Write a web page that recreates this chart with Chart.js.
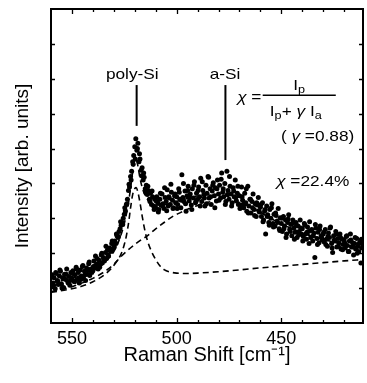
<!DOCTYPE html>
<html>
<head>
<meta charset="utf-8">
<script src="https://cdn.jsdelivr.net/npm/chart.js@4.4.0/dist/chart.umd.min.js"></script>
<style>
  body { margin: 0; background: #fff; }
</style>
</head>
<body>
<canvas id="raman" width="367" height="383"></canvas>
<script>
// measured spectrum (Raman shift in cm-1, intensity in arb. units)
const shift = [
  560,559.5,559,558.5,558,557.5,557,556.5,556,555.5,555,554.5,554,553.5,553,552.5,552,551.5,551,550.5,
  550,549.5,549,548.5,548,547.5,547,546.5,546,545.5,545,544.5,544,543.5,543,542.5,542,541.5,541,540.5,
  540,539.5,539,538.5,538,537.5,537,536.5,536,535.5,535,534.5,534,533.5,533,532.5,532,531.5,531,530.5,
  530,529.5,529,528.5,528,527.5,527,526.5,526,525.5,525,524.5,524,523.5,523,522.5,522,521.5,521,520.5,
  520,519.5,519,518.5,518,517.5,517,516.5,516,515.5,515,514.5,514,513.5,513,512.5,512,511.5,511,510.5,
  510,509.5,509,508.5,508,507.5,507,506.5,506,505.5,505,504.5,504,503.5,503,502.5,502,501.5,501,500.5,
  500,499.5,499,498.5,498,497.5,497,496.5,496,495.5,495,494.5,494,493.5,493,492.5,492,491.5,491,490.5,
  490,489.5,489,488.5,488,487.5,487,486.5,486,485.5,485,484.5,484,483.5,483,482.5,482,481.5,481,480.5,
  480,479.5,479,478.5,478,477.5,477,476.5,476,475.5,475,474.5,474,473.5,473,472.5,472,471.5,471,470.5,
  470,469.5,469,468.5,468,467.5,467,466.5,466,465.5,465,464.5,464,463.5,463,462.5,462,461.5,461,460.5,
  460,459.5,459,458.5,458,457.5,457,456.5,456,455.5,455,454.5,454,453.5,453,452.5,452,451.5,451,450.5,
  450,449.5,449,448.5,448,447.5,447,446.5,446,445.5,445,444.5,444,443.5,443,442.5,442,441.5,441,440.5,
  440,439.5,439,438.5,438,437.5,437,436.5,436,435.5,435,434.5,434,433.5,433,432.5,432,431.5,431,430.5,
  430,429.5,429,428.5,428,427.5,427,426.5,426,425.5,425,424.5,424,423.5,423,422.5,422,421.5,421,420.5,
  420,419.5,419,418.5,418,417.5,417,416.5,416,415.5,415,414.5,414,413.5,413,412.5,412,411.5,411
];
const intensity = [
  1.05,1.38,1.15,1.30,0.98,1.42,1.22,1.10,1.35,1.48,1.12,1.30,1.02,1.40,1.25,1.55,1.18,1.33,1.08,1.45,
  1.28,1.50,1.20,1.38,1.60,1.25,1.45,1.15,1.52,1.35,1.62,1.30,1.48,1.22,1.58,1.40,1.70,1.36,1.55,1.45,
  1.50,1.78,1.58,1.66,1.85,1.55,1.80,1.68,1.95,1.72,1.88,1.78,2.02,1.85,2.10,1.92,2.15,2.05,2.28,2.12,
  2.25,2.35,2.28,2.50,2.45,2.62,2.70,2.80,2.88,3.00,3.12,3.22,3.40,3.55,3.80,3.90,4.20,4.35,4.62,4.80,
  5.05,5.28,4.95,5.15,4.62,4.70,4.38,4.45,4.10,4.18,3.85,3.95,3.68,3.80,3.55,3.72,3.40,3.62,3.35,3.55,
  3.30,3.62,3.45,3.25,3.55,3.38,3.70,3.42,3.28,3.60,3.48,3.82,3.35,3.58,3.40,3.75,3.52,3.30,3.65,3.45,
  3.62,3.40,3.85,3.55,3.30,4.25,3.60,3.48,3.78,3.20,3.65,3.92,3.50,3.70,3.38,3.85,3.58,4.05,3.45,3.72,
  3.55,3.90,3.62,4.15,3.48,3.80,3.68,3.35,3.95,3.72,4.20,3.58,3.85,3.40,3.78,4.02,3.65,3.88,3.50,4.10,
  3.70,3.95,3.58,4.30,3.75,3.62,4.00,3.48,4.35,3.80,3.55,3.92,3.70,3.45,3.88,3.62,4.10,3.50,3.72,3.40,
  3.65,3.38,3.90,3.52,3.30,3.72,3.45,3.20,3.92,3.35,3.55,3.15,3.48,3.70,3.25,3.42,3.05,3.38,3.60,3.18,
  3.32,3.05,3.45,2.95,3.20,2.55,3.35,3.10,2.88,3.25,3.00,3.42,2.85,3.12,2.78,3.08,2.92,3.28,2.70,3.02,
  2.85,2.62,3.05,2.78,2.95,2.55,2.88,3.10,2.68,2.82,2.50,2.95,2.72,2.60,2.88,2.45,2.78,2.62,2.95,2.55,
  2.70,2.48,2.85,2.55,2.40,2.75,2.62,2.90,2.45,2.68,2.35,2.58,1.88,2.72,2.42,2.60,2.30,2.78,2.50,2.38,
  2.55,2.32,2.68,2.40,2.20,2.58,2.45,2.75,2.28,2.02,2.50,2.35,2.62,2.18,2.42,2.30,2.55,2.12,2.40,2.25,
  2.38,2.15,2.48,2.22,2.05,2.35,2.55,2.18,2.30,1.95,2.28,2.12,2.42,2.20,2.05,2.32,1.72,2.15,2.25
];

// second, interleaved set of spectrum points
const shift2 = [
  559.75,558.75,557.75,556.75,555.75,554.75,553.75,552.75,551.75,550.75,
  549.75,548.75,547.75,546.75,545.75,544.75,543.75,542.75,541.75,540.75,
  539.75,538.75,537.75,536.75,535.75,534.75,533.75,532.75,531.75,530.75,
  529.75,528.75,527.75,526.75,525.75,524.75,523.75,522.75,521.75,520.75,
  519.75,518.75,517.75,516.75,515.75,514.75,513.75,512.75,511.75,510.75,
  509.75,508.75,507.75,506.75,505.75,504.75,503.75,502.75,501.75,500.75,
  499.75,498.75,497.75,496.75,495.75,494.75,493.75,492.75,491.75,490.75,
  489.75,488.75,487.75,486.75,485.75,484.75,483.75,482.75,481.75,480.75,
  479.75,478.75,477.75,476.75,475.75,474.75,473.75,472.75,471.75,470.75,
  469.75,468.75,467.75,466.75,465.75,464.75,463.75,462.75,461.75,460.75,
  459.75,458.75,457.75,456.75,455.75,454.75,453.75,452.75,451.75,450.75,
  449.75,448.75,447.75,446.75,445.75,444.75,443.75,442.75,441.75,440.75,
  439.75,438.75,437.75,436.75,435.75,434.75,433.75,432.75,431.75,430.75,
  429.75,428.75,427.75,426.75,425.75,424.75,423.75,422.75,421.75,420.75,
  419.75,418.75,417.75,416.75,415.75,414.75,413.75,412.75,411.75
];
const intensity2 = [
  1.32,1.08,1.45,1.20,1.52,1.00,1.28,1.40,1.15,1.22,
  1.42,1.18,1.55,1.30,1.25,1.65,1.38,1.52,1.75,1.48,
  1.62,1.92,1.70,1.60,2.00,1.82,2.20,1.95,2.08,2.35,
  2.18,2.55,2.48,2.90,2.82,3.30,3.42,3.98,4.10,4.55,
  4.70,5.00,4.85,4.22,4.30,3.75,3.92,3.48,3.78,3.25,
  3.50,3.18,3.72,3.35,3.88,3.22,3.62,3.98,3.28,3.70,
  3.28,3.75,3.52,4.00,3.42,3.80,3.60,3.25,3.95,3.48,
  3.80,3.35,4.05,3.58,3.42,4.18,3.62,3.95,3.30,3.85,
  3.52,4.12,3.85,3.40,3.68,4.20,3.35,3.78,3.60,3.92,
  3.28,3.62,3.40,3.85,3.15,3.55,3.30,3.08,3.45,3.22,
  3.40,2.90,3.25,3.05,2.80,3.30,2.75,3.15,2.88,2.65,
  3.00,2.70,2.45,2.98,2.62,2.85,2.40,2.80,2.52,2.72,
  2.35,2.80,2.60,2.28,2.65,2.50,2.82,2.25,2.68,2.45,
  2.60,2.25,2.48,2.72,2.15,2.38,2.55,2.20,2.45,2.10,
  2.30,2.50,2.05,2.38,2.18,2.45,2.00,2.28,2.40
];

// fitted curves
const fitShift = [560,550,545,540,535,530,527,525,523,521.5,520.5,519.5,518.5,517.5,516,514,512,510,505,500,
  495,490,485,480,475,470,465,460,455,450,440,430,420,411];
const fitTotal = [1.15,1.28,1.38,1.5,1.7,2.05,2.45,2.85,3.45,4.1,4.55,4.7,4.5,4.15,3.8,3.55,3.42,3.38,3.4,3.48,
  3.57,3.64,3.68,3.68,3.62,3.5,3.35,3.18,3.0,2.84,2.59,2.41,2.26,2.14];

const polyShift = [560,550,545,540,535,531,528,526.5,525,524,523,522,521,520,519.3,518.5,517.5,516.5,515.5,514.5,
  513.5,512,510,508,506,503,500,495,490,480,470,460,450,440,430,420,411];
const polyFit = [0.88,0.98,1.06,1.18,1.36,1.58,1.82,1.98,2.25,2.5,2.85,3.3,3.68,3.85,3.88,3.75,3.45,3.08,2.75,2.48,
  2.28,2.05,1.82,1.64,1.53,1.46,1.43,1.42,1.43,1.47,1.52,1.58,1.63,1.68,1.73,1.78,1.82];

const amorShift = [560,555,550,545,540,535,530,527,524,520,517,514,510,506,502,498,494,490,485,480,
  475,470,465,460,455,450,445,440,435,430,420,411];
const amorFit = [0.9,0.96,1.04,1.15,1.28,1.45,1.68,1.88,2.05,2.25,2.38,2.5,2.7,2.88,3.05,3.17,3.28,3.37,3.46,3.52,
  3.52,3.45,3.33,3.17,3.0,2.83,2.7,2.58,2.48,2.4,2.25,2.13];

// peak markers and fraction bar of the formula
const polyMarkShift = [519.1, 519.1], polyMarkLevel = [5.65, 6.82];
const aSiMarkShift = [476.7, 476.7], aSiMarkLevel = [4.67, 6.82];
const barShift = [458.9, 424], barLevel = [6.53, 6.53];

// axis ticks
const xLabels = [550, 500, 450];
const xTickMarks = [550, 540, 530, 520, 510, 500, 490, 480, 470, 460, 450, 440, 430, 420];
const yTickMarks = [1, 2, 3, 4, 5, 6, 7, 8];

const pts = (xs, ys) => xs.map((x, i) => ({ x: x, y: ys[i] }));

const FONT = '"Liberation Sans", Arial, sans-serif';
const base = '15px ' + FONT;
const ital = 'italic 15px ' + FONT;
const sub = '11px ' + FONT;

function drawParts(ctx, parts, cx, cy) {
    let w = 0;
    parts.forEach(p => { ctx.font = p.f || base; p.w = ctx.measureText(p.t).width; w += p.w; });
    ctx.save();
    ctx.translate(cx, cy);
    ctx.scale(1.15, 1);
    let x = -w / 2;
    parts.forEach(p => {
        ctx.font = p.f || base;
        ctx.fillText(p.t, x, p.dy || 0);
        x += p.w;
    });
    ctx.restore();
}

const frameAndText = {
    id: 'frameAndText',
    afterDraw(chart) {
        const ctx = chart.ctx;
        const xs = chart.scales.x, ys = chart.scales.y;
        const { left, right, top, bottom } = chart.chartArea;
        ctx.save();
        ctx.strokeStyle = '#000';
        ctx.lineWidth = 2;
        ctx.strokeRect(left, top, right - left, bottom - top);

        // inward ticks
        ctx.lineWidth = 1.3;
        ctx.beginPath();
        xTickMarks.forEach(v => {
            const px = Math.round(xs.getPixelForValue(v)) + 0.5;
            const len = xLabels.includes(v) ? 5 : 3;
            ctx.moveTo(px, bottom); ctx.lineTo(px, bottom - len);
            ctx.moveTo(px, top); ctx.lineTo(px, top + len);
        });
        yTickMarks.forEach(v => {
            const py = Math.round(ys.getPixelForValue(v)) + 0.5;
            ctx.moveTo(left, py); ctx.lineTo(left + 4, py);
            ctx.moveTo(right, py); ctx.lineTo(right - 4, py);
        });
        ctx.stroke();

        // annotations
        ctx.fillStyle = '#000';
        ctx.textBaseline = 'middle';
        ctx.textAlign = 'left';
        const at = (sx, lv) => [xs.getPixelForValue(sx), ys.getPixelForValue(lv)];
        drawParts(ctx, [{ t: 'poly-Si' }], ...at(521.2, 7.11));
        drawParts(ctx, [{ t: 'a-Si' }], ...at(476.9, 7.11));
        drawParts(ctx, [{ t: 'χ', f: ital }, { t: ' =' }], ...at(465.3, 6.45));
        drawParts(ctx, [{ t: 'I' }, { t: 'p', f: sub, dy: 4 }], ...at(441.5, 6.79));
        drawParts(ctx, [{ t: 'I' }, { t: 'p', f: sub, dy: 4 }, { t: '+ ' }, { t: 'γ', f: ital },
            { t: ' I' }, { t: 'a', f: sub, dy: 4 }], ...at(443.1, 6.05));
        drawParts(ctx, [{ t: '( ' }, { t: 'γ', f: ital }, { t: ' =0.88)' }], ...at(432.7, 5.33));
        drawParts(ctx, [{ t: 'χ', f: ital }, { t: ' =22.4%' }], ...at(435.0, 4.04));
        ctx.restore();
    }
};

const dots = (data) => ({
    data: data,
    pointRadius: 2.5,
    pointBackgroundColor: '#000',
    pointBorderWidth: 0,
    borderColor: '#000'
});
const dashed = (data) => ({
    data: data,
    showLine: true,
    borderColor: '#000',
    borderWidth: 1.6,
    borderDash: [6, 4],
    pointRadius: 0,
    cubicInterpolationMode: 'monotone'
});
const solid = (data, w) => ({
    data: data,
    showLine: true,
    borderColor: '#000',
    borderWidth: w,
    pointRadius: 0
});

new Chart(document.getElementById('raman'), {
    type: 'scatter',
    data: {
        datasets: [
            dots(pts(shift, intensity)),
            dots(pts(shift2, intensity2)),
            dashed(pts(fitShift, fitTotal)),
            dashed(pts(polyShift, polyFit)),
            dashed(pts(amorShift, amorFit)),
            solid(pts(polyMarkShift, polyMarkLevel), 2),
            solid(pts(aSiMarkShift, aSiMarkLevel), 2),
            solid(pts(barShift, barLevel), 1.6)
        ]
    },
    options: {
        responsive: false,
        animation: false,
        layout: { padding: { top: 9, right: 3, left: 0, bottom: 0 } },
        scales: {
            x: {
                type: 'linear',
                min: 411,
                max: 560,
                reverse: true,
                grid: { display: false, drawTicks: false },
                border: { display: false },
                afterBuildTicks: s => { s.ticks = xLabels.map(v => ({ value: v })); },
                afterFit: s => { s.height = 60; },
                ticks: {
                    color: '#000',
                    padding: 5,
                    maxRotation: 0,
                    autoSkip: false,
                    font: { size: 18, family: FONT }
                },
                title: {
                    display: true,
                    text: 'Raman Shift [cm⁻¹]',
                    color: '#000',
                    padding: { top: 0, bottom: 16 },
                    font: { size: 20, family: FONT }
                }
            },
            y: {
                min: 0,
                max: 9,
                grid: { display: false, drawTicks: false },
                border: { display: false },
                ticks: { display: false },
                afterFit: s => { s.width = 51; },
                title: {
                    display: true,
                    text: 'Intensity [arb. units]',
                    color: '#000',
                    padding: { top: 11, bottom: 0 },
                    font: { size: 19, family: FONT }
                }
            }
        },
        plugins: {
            legend: { display: false },
            tooltip: { enabled: false }
        }
    },
    plugins: [frameAndText]
});
</script>
</body>
</html>
